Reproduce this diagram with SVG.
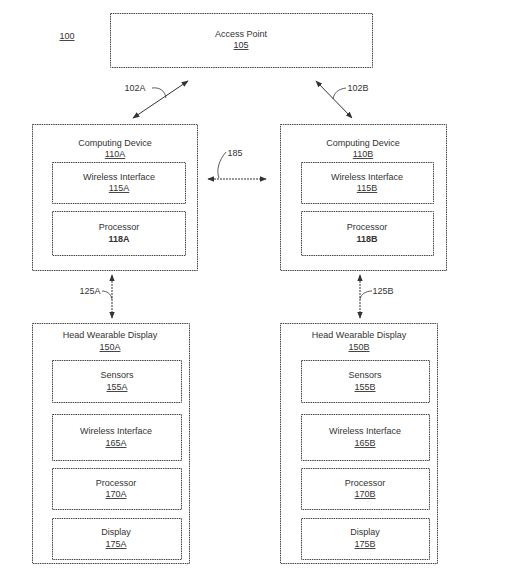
<svg xmlns="http://www.w3.org/2000/svg" width="522" height="586" viewBox="0 0 522 586">
<style>
.box{fill:#fff;stroke:#444;stroke-width:1;stroke-dasharray:1.5,0.8}
.t{font-family:"Liberation Sans",Arial,sans-serif;font-size:9px;fill:#333;text-anchor:middle}
.u{text-decoration:underline}
.b{font-weight:bold}
.ln{fill:none;stroke:#333;stroke-width:1}
.dl{fill:none;stroke:#333;stroke-width:1;stroke-dasharray:2,1}
.ld{fill:none;stroke:#333;stroke-width:0.8}
</style>
<defs>
<marker id="ah" viewBox="0 0 10 10" refX="9" refY="5" markerWidth="7" markerHeight="7" orient="auto-start-reverse" markerUnits="userSpaceOnUse">
<path d="M0,1 L10,5 L0,9 Z" fill="#333"/>
</marker>
</defs>
<rect width="522" height="586" fill="#fff"/>
<text class="t u" x="67" y="39">100</text>
<g id="ap105">
<rect class="box" x="110.5" y="13.5" width="262" height="54"/>
<text class="t" x="241" y="37">Access Point</text>
<text class="t u" x="241" y="48">105</text>
</g>
<g id="cd110A">
<rect class="box" x="32.5" y="124.5" width="165" height="146"/>
<text class="t" x="115" y="146">Computing Device</text>
<text class="t u" x="115" y="157">110A</text>
</g>
<g id="wi115A">
<rect class="box" x="52.5" y="162.5" width="133" height="41"/>
<text class="t" x="119" y="180">Wireless Interface</text>
<text class="t u" x="119" y="191">115A</text>
</g>
<g id="p118A">
<rect class="box" x="52.5" y="211.5" width="133" height="44"/>
<text class="t" x="119" y="230">Processor</text>
<text class="t b" x="119" y="242">118A</text>
</g>
<g id="cd110B">
<rect class="box" x="280.5" y="124.5" width="166" height="146"/>
<text class="t" x="363" y="146">Computing Device</text>
<text class="t u" x="363" y="157">110B</text>
</g>
<g id="wi115B">
<rect class="box" x="301.5" y="162.5" width="132" height="41"/>
<text class="t" x="367" y="180">Wireless Interface</text>
<text class="t u" x="367" y="191">115B</text>
</g>
<g id="p118B">
<rect class="box" x="301.5" y="211.5" width="132" height="44"/>
<text class="t" x="367" y="230">Processor</text>
<text class="t b" x="367" y="242">118B</text>
</g>
<g id="hwd150A">
<rect class="box" x="32.5" y="323.5" width="157" height="240"/>
<text class="t" x="110" y="338">Head Wearable Display</text>
<text class="t u" x="110" y="350">150A</text>
</g>
<g id="s155A">
<rect class="box" x="52.5" y="360.5" width="129" height="42"/>
<text class="t" x="117" y="378">Sensors</text>
<text class="t u" x="117" y="390">155A</text>
</g>
<g id="wi165A">
<rect class="box" x="52.5" y="414.5" width="129" height="46"/>
<text class="t" x="116" y="434">Wireless Interface</text>
<text class="t u" x="116" y="446">165A</text>
</g>
<g id="p170A">
<rect class="box" x="52.5" y="468.5" width="129" height="41"/>
<text class="t" x="116" y="486">Processor</text>
<text class="t u" x="116" y="497">170A</text>
</g>
<g id="d175A">
<rect class="box" x="52.5" y="518.5" width="129" height="41"/>
<text class="t" x="116" y="535">Display</text>
<text class="t u" x="116" y="547">175A</text>
</g>
<g id="hwd150B">
<rect class="box" x="280.5" y="323.5" width="157" height="240"/>
<text class="t" x="359" y="338">Head Wearable Display</text>
<text class="t u" x="359" y="350">150B</text>
</g>
<g id="s155B">
<rect class="box" x="301.5" y="360.5" width="128" height="42"/>
<text class="t" x="365" y="378">Sensors</text>
<text class="t u" x="365" y="390">155B</text>
</g>
<g id="wi165B">
<rect class="box" x="301.5" y="414.5" width="128" height="46"/>
<text class="t" x="365" y="434">Wireless Interface</text>
<text class="t u" x="365" y="446">165B</text>
</g>
<g id="p170B">
<rect class="box" x="301.5" y="468.5" width="128" height="41"/>
<text class="t" x="365" y="486">Processor</text>
<text class="t u" x="365" y="497">170B</text>
</g>
<g id="d175B">
<rect class="box" x="301.5" y="518.5" width="128" height="41"/>
<text class="t" x="365" y="535">Display</text>
<text class="t u" x="365" y="547">175B</text>
</g>
<g id="connectors">
<line class="ln" x1="133" y1="118" x2="188" y2="81" marker-start="url(#ah)" marker-end="url(#ah)"/>
<path class="ld" d="M152,88 C160,87 165,91 166,98"/>
<text class="t" x="135" y="91">102A</text>
<line class="ln" x1="316" y1="81" x2="352" y2="118" marker-start="url(#ah)" marker-end="url(#ah)"/>
<path class="ld" d="M346,88 C338,89 334,93 333,99"/>
<text class="t" x="358" y="91">102B</text>
<line class="dl" x1="208" y1="179" x2="266" y2="179" marker-start="url(#ah)" marker-end="url(#ah)"/>
<path class="ld" d="M226,152 C219,160 216,170 219,178"/>
<text class="t" x="235" y="156">185</text>
<line class="dl" x1="112" y1="275" x2="112" y2="318" marker-start="url(#ah)" marker-end="url(#ah)"/>
<path class="ld" d="M102,291 C107,291 111,294 112,299"/>
<text class="t" x="90" y="294">125A</text>
<line class="dl" x1="360" y1="275" x2="360" y2="318" marker-start="url(#ah)" marker-end="url(#ah)"/>
<path class="ld" d="M372,291 C366,291 361,294 360,299"/>
<text class="t" x="383" y="294">125B</text>
</g>
</svg>
